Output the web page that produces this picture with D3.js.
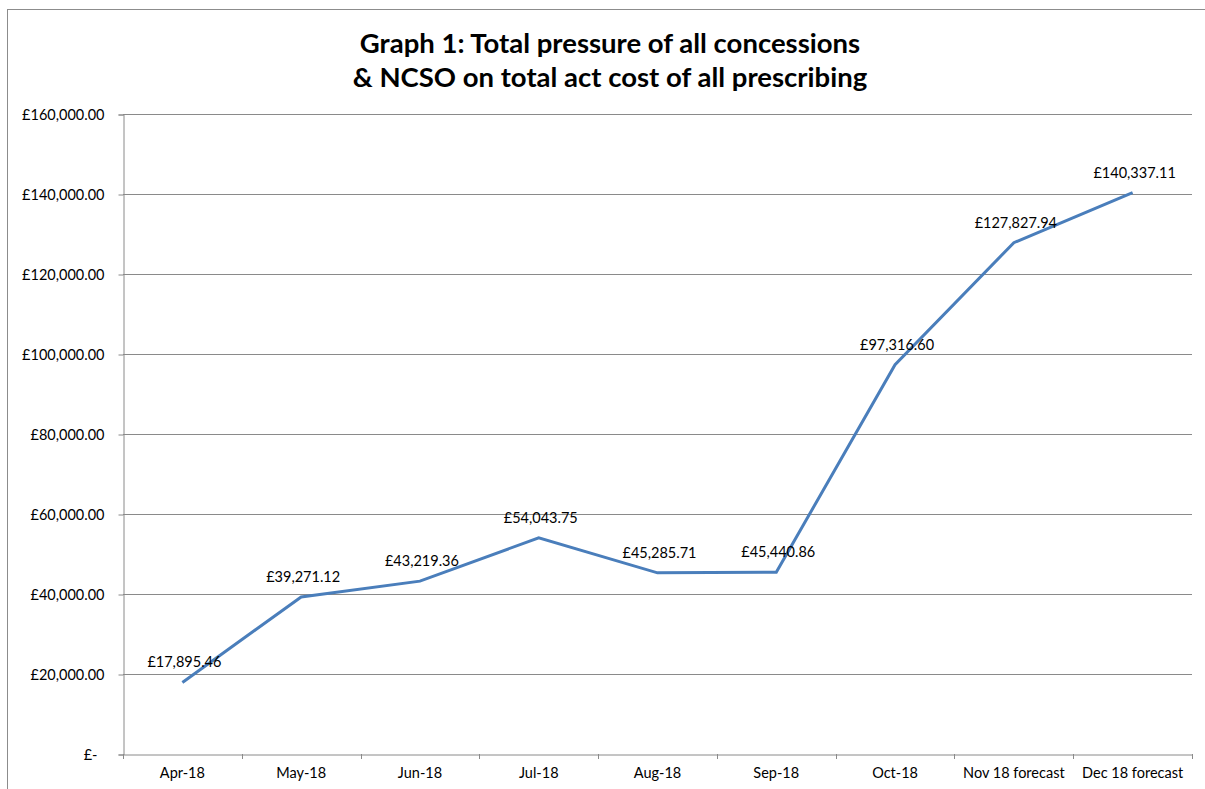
<!DOCTYPE html>
<html>
<head>
<meta charset="utf-8">
<script src="https://cdn.jsdelivr.net/npm/d3@7"></script>
<style>
  body { margin: 0; background: #fff; }
  text { font-family: Lato, "Open Sans", sans-serif; fill: #000; }
</style>
</head>
<body>
<svg width="1205" height="789"></svg>
<script>
var months = ["Apr-18", "May-18", "Jun-18", "Jul-18", "Aug-18", "Sep-18", "Oct-18", "Nov 18 forecast", "Dec 18 forecast"]
var pressure = [17895.46, 39271.12, 43219.36, 54043.75, 45285.71, 45440.86, 97316.60, 127827.94, 140337.11]
var yTicks = [0, 20000, 40000, 60000, 80000, 100000, 120000, 140000, 160000]
var titleLines = ["Graph 1: Total pressure of all concessions", "& NCSO on total act cost of all prescribing"]

drawChart()

function drawChart() {
	var svg = d3.select("svg")
	var plotLeft = 123, plotRight = 1192, plotTop = 114, plotBottom = 754

	// chart frame
	svg.append("rect")
		.attr("x", 7.5).attr("y", 9.5)
		.attr("width", 1210).attr("height", 800)
		.attr("fill", "none").attr("stroke", "#8c8c8c").attr("stroke-width", 1)

	var x = d3.scaleBand().domain(months).range([plotLeft, plotRight])
	var y = d3.scaleLinear().domain([0, 160000]).range([plotBottom, plotTop])

	var money = d3.format(",.2f")
	function fmt(v) { return v == 0 ? "£-" : "£" + money(v) }

	// gridlines
	svg.append("g")
		.selectAll("line")
		.data(yTicks.filter(d => d > 0))
		.enter()
		.append("line")
		.attr("x1", plotLeft).attr("x2", plotRight)
		.attr("y1", d => Math.round(y(d)) + 0.5)
		.attr("y2", d => Math.round(y(d)) + 0.5)
		.attr("stroke", "#8a8a8a")

	// y axis
	var yAxis = svg.append("g")
		.attr("transform", "translate(" + (plotLeft + 0.5) + ",0.5)")
		.call(d3.axisLeft(y).tickValues(yTicks).tickFormat(fmt).tickSizeOuter(0).tickSize(5))
	yAxis.select(".domain").attr("stroke", "#8a8a8a")
	yAxis.selectAll(".tick line").attr("stroke", "#8a8a8a")
	yAxis.selectAll(".tick text")
		.style("font-size", "14.5px")
		.attr("x", d => d == 0 ? -26 : -19)

	// x axis
	var xAxis = svg.append("g")
		.attr("transform", "translate(0," + (plotBottom + 0.5) + ")")
		.call(d3.axisBottom(x).tickSize(0).tickPadding(13))
	xAxis.select(".domain").attr("stroke", "#8a8a8a")
	xAxis.selectAll(".tick text").style("font-size", "14.5px")
	// tick marks between categories
	svg.append("g")
		.selectAll("line")
		.data(d3.range(months.length + 1))
		.enter()
		.append("line")
		.attr("x1", i => Math.round(plotLeft + i * x.bandwidth()) + 0.5)
		.attr("x2", i => Math.round(plotLeft + i * x.bandwidth()) + 0.5)
		.attr("y1", plotBottom).attr("y2", plotBottom + 5)
		.attr("stroke", "#8a8a8a")

	// series line
	var line = d3.line()
		.x((d, i) => x(months[i]) + x.bandwidth() / 2)
		.y(d => y(d))
	svg.append("path")
		.datum(pressure)
		.attr("d", line)
		.attr("fill", "none")
		.attr("stroke", "#4a7ebb")
		.attr("stroke-width", 3)

	// data labels
	svg.append("g")
		.selectAll("text")
		.data(pressure)
		.enter()
		.append("text")
		.attr("x", (d, i) => x(months[i]) + x.bandwidth() / 2 + 2)
		.attr("y", d => y(d) - 15)
		.attr("text-anchor", "middle")
		.style("font-size", "14.5px")
		.text(d => fmt(d))

	// title
	svg.append("g")
		.selectAll("text")
		.data(titleLines)
		.enter()
		.append("text")
		.attr("x", 610)
		.attr("y", (d, i) => 53 + i * 34)
		.attr("text-anchor", "middle")
		.style("font-size", "27.5px")
		.style("font-weight", "bold")
		.text(d => d)
}
</script>
</body>
</html>
